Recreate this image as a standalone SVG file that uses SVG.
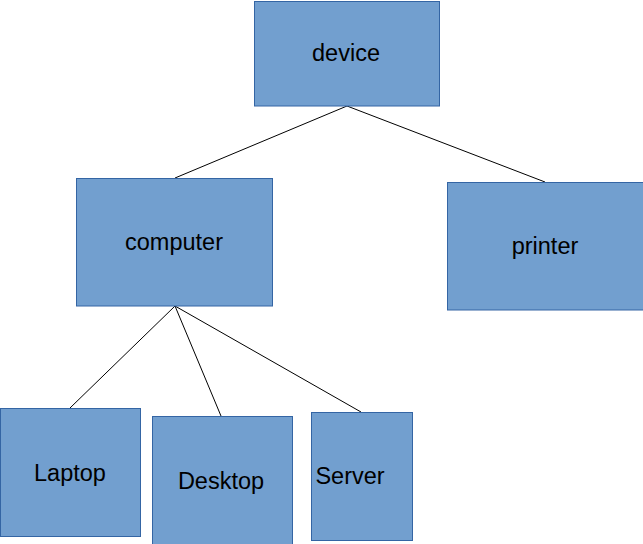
<svg xmlns="http://www.w3.org/2000/svg" width="643" height="544" viewBox="0 0 643 544">
<style>
.box{fill:#729fcf;stroke:#3465a4;stroke-width:1}
.lbl{font-family:"Liberation Sans",Arial,sans-serif;font-size:23.5px;fill:#000;text-anchor:middle;dominant-baseline:central}
.edge{stroke:#000;stroke-width:1;fill:none}
</style>
<rect width="643" height="544" fill="#fff"/>
<g id="connectors">
<line class="edge" x1="347" y1="106" x2="175" y2="178"/>
<line class="edge" x1="347" y1="106" x2="545" y2="182"/>
<line class="edge" x1="175" y1="306" x2="70" y2="408"/>
<line class="edge" x1="175" y1="306" x2="221" y2="416"/>
<line class="edge" x1="175" y1="306" x2="361" y2="412"/>
</g>
<g id="device"><rect class="box" x="254.5" y="1.5" width="185" height="104.5"/><text class="lbl" x="346" y="53">device</text></g>
<g id="computer"><rect class="box" x="76.5" y="178.5" width="196" height="127.5"/><text class="lbl" x="174" y="242">computer</text></g>
<g id="printer"><rect class="box" x="447.5" y="182.5" width="196" height="127.5"/><text class="lbl" x="545" y="246">printer</text></g>
<g id="laptop"><rect class="box" x="0.5" y="408.5" width="140" height="128"/><text class="lbl" x="70" y="473">Laptop</text></g>
<g id="desktop"><rect class="box" x="152.5" y="416.5" width="140" height="128"/><text class="lbl" x="221" y="481">Desktop</text></g>
<g id="server"><rect class="box" x="311.5" y="412.5" width="101" height="128"/><text class="lbl" x="350" y="476">Server</text></g>
</svg>
